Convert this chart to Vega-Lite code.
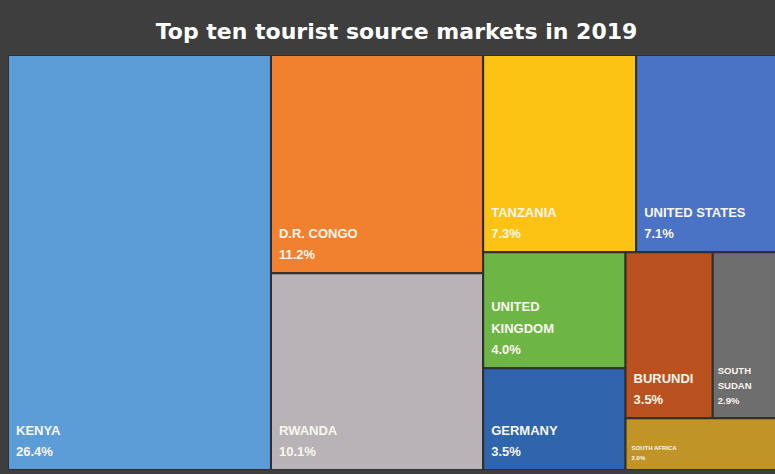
{
  "$schema": "https://vega.github.io/schema/vega-lite/v6.json",
  "width": 767,
  "height": 415,
  "autosize": {"type": "none"},
  "padding": {"left": 8, "top": 55, "right": 0, "bottom": 4},
  "background": "#3e3e3e",
  "title": {"text": "Top ten tourist source markets in 2019", "font": "DejaVu Sans", "fontSize": 22, "fontWeight": "bold", "color": "#ffffff", "anchor": "middle", "offset": 11, "dx": 5},
  "config": {"view": {"stroke": null}},
  "data": {"values": [
    {"country": "Kenya", "label": "KENYA", "share": 26.4, "rank": 1, "l1": "Kenya", "l2": "Kenya", "l3": "Kenya", "l4": "Kenya", "l5": "Kenya"},
    {"country": "D.R. Congo", "label": "D.R. CONGO", "share": 11.2, "rank": 2, "l1": "Central", "l2": "D.R. Congo", "l3": "D.R. Congo", "l4": "D.R. Congo", "l5": "D.R. Congo"},
    {"country": "Rwanda", "label": "RWANDA", "share": 10.1, "rank": 3, "l1": "Central", "l2": "Rwanda", "l3": "Rwanda", "l4": "Rwanda", "l5": "Rwanda"},
    {"country": "Tanzania", "label": "TANZANIA", "share": 7.3, "rank": 4, "l1": "Other", "l2": "Upper", "l3": "Tanzania", "l4": "Tanzania", "l5": "Tanzania"},
    {"country": "United States", "label": "UNITED STATES", "share": 7.1, "rank": 5, "l1": "Other", "l2": "Upper", "l3": "United States", "l4": "United States", "l5": "United States"},
    {"country": "United Kingdom", "label": "UNITED\nKINGDOM", "share": 4.0, "rank": 6, "l1": "Other", "l2": "Lower", "l3": "Europe", "l4": "United Kingdom", "l5": "United Kingdom"},
    {"country": "Germany", "label": "GERMANY", "share": 3.5, "rank": 7, "l1": "Other", "l2": "Lower", "l3": "Europe", "l4": "Germany", "l5": "Germany"},
    {"country": "Burundi", "label": "BURUNDI", "share": 3.5, "rank": 8, "l1": "Other", "l2": "Lower", "l3": "Africa", "l4": "Neighbours", "l5": "Burundi"},
    {"country": "South Sudan", "label": "SOUTH\nSUDAN", "share": 2.9, "rank": 9, "l1": "Other", "l2": "Lower", "l3": "Africa", "l4": "Neighbours", "l5": "South Sudan"},
    {"country": "South Africa", "label": "SOUTH AFRICA", "share": 2.0, "rank": 10, "l1": "Other", "l2": "Lower", "l3": "Africa", "l4": "South Africa", "l5": "South Africa"}
  ]},
  "transform": [
    {"joinaggregate": [{"op": "sum", "field": "share", "as": "P1"}]},
    {"joinaggregate": [{"op": "sum", "field": "share", "as": "N1"}], "groupby": ["l1"]},
    {"joinaggregate": [{"op": "sum", "field": "share", "as": "N2"}], "groupby": ["l1", "l2"]},
    {"joinaggregate": [{"op": "sum", "field": "share", "as": "N3"}], "groupby": ["l1", "l2", "l3"]},
    {"joinaggregate": [{"op": "sum", "field": "share", "as": "N4"}], "groupby": ["l1", "l2", "l3", "l4"]},
    {"joinaggregate": [{"op": "sum", "field": "share", "as": "N5"}], "groupby": ["l1", "l2", "l3", "l4", "l5"]},
    {"window": [{"op": "sum", "field": "share", "as": "c0"}], "sort": [{"field": "rank"}], "frame": [null, 0]},
    {"window": [{"op": "sum", "field": "share", "as": "c1"}], "sort": [{"field": "rank"}], "groupby": ["l1"], "frame": [null, 0]},
    {"window": [{"op": "sum", "field": "share", "as": "c2"}], "sort": [{"field": "rank"}], "groupby": ["l1", "l2"], "frame": [null, 0]},
    {"window": [{"op": "sum", "field": "share", "as": "c3"}], "sort": [{"field": "rank"}], "groupby": ["l1", "l2", "l3"], "frame": [null, 0]},
    {"window": [{"op": "sum", "field": "share", "as": "c4"}], "sort": [{"field": "rank"}], "groupby": ["l1", "l2", "l3", "l4"], "frame": [null, 0]},
    {"window": [{"op": "sum", "field": "share", "as": "c5"}], "sort": [{"field": "rank"}], "groupby": ["l1", "l2", "l3", "l4", "l5"], "frame": [null, 0]},
    {"calculate": "(datum.c0 - datum.c1) / datum.P1", "as": "xa"},
    {"calculate": "datum.xa + datum.N1 / datum.P1", "as": "xb"},
    {"calculate": "(datum.c1 - datum.c2) / datum.N1", "as": "ya"},
    {"calculate": "datum.ya + datum.N2 / datum.N1", "as": "yb"},
    {"calculate": "(datum.c2 - datum.c3) / datum.N2", "as": "t3a"},
    {"calculate": "datum.t3a + datum.N3 / datum.N2", "as": "t3b"},
    {"calculate": "datum.xa + datum.t3a * (datum.xb - datum.xa)", "as": "x3a"},
    {"calculate": "datum.xa + datum.t3b * (datum.xb - datum.xa)", "as": "x3b"},
    {"calculate": "(datum.c3 - datum.c4) / datum.N3", "as": "t4a"},
    {"calculate": "datum.t4a + datum.N4 / datum.N3", "as": "t4b"},
    {"calculate": "datum.ya + datum.t4a * (datum.yb - datum.ya)", "as": "y0"},
    {"calculate": "datum.ya + datum.t4b * (datum.yb - datum.ya)", "as": "y1"},
    {"calculate": "(datum.c4 - datum.c5) / datum.N4", "as": "t5a"},
    {"calculate": "datum.t5a + datum.N5 / datum.N4", "as": "t5b"},
    {"calculate": "datum.x3a + datum.t5a * (datum.x3b - datum.x3a)", "as": "x0"},
    {"calculate": "datum.x3a + datum.t5b * (datum.x3b - datum.x3a)", "as": "x1"},
    {"calculate": "format(datum.share, '.1f') + '%'", "as": "pct"},
    {"calculate": "indexof(datum.label, '\\n') >= 0 ? 2 : 1", "as": "nlines"}
  ],
  "layer": [
    {
      "mark": {"type": "rect", "stroke": "#2f2f2f", "strokeWidth": 2, "clip": true},
      "encoding": {
        "x": {"field": "x0", "type": "quantitative", "scale": {"domain": [0, 0.98713], "nice": false, "zero": false}, "axis": null},
        "x2": {"field": "x1"},
        "y": {"field": "y0", "type": "quantitative", "scale": {"domain": [0, 1], "reverse": true, "nice": false, "zero": false}, "axis": null},
        "y2": {"field": "y1"},
        "color": {"field": "country", "type": "nominal", "legend": null,
          "scale": {"domain": ["Kenya", "D.R. Congo", "Rwanda", "Tanzania", "United States", "United Kingdom", "Germany", "Burundi", "South Sudan", "South Africa"],
                    "range": ["#5c9dd8", "#f1812f", "#b8b3b7", "#fcc314", "#4a73c6", "#6db545", "#2e65ad", "#b9521e", "#6e6e6e", "#c09526"]}}
      }
    },
    {
      "transform": [{"filter": "datum.share >= 3.2"}],
      "mark": {"type": "text", "align": "left", "baseline": "bottom", "dx": 8, "dy": -11, "font": "Liberation Sans", "fontWeight": "bold", "fontSize": 13, "color": "#fbf6ee"},
      "encoding": {
        "x": {"field": "x0", "type": "quantitative"},
        "y": {"field": "y1", "type": "quantitative"},
        "text": {"field": "pct"}
      }
    },
    {
      "transform": [{"filter": "datum.share >= 3.2 && datum.nlines == 1"}],
      "mark": {"type": "text", "align": "left", "baseline": "bottom", "dx": 8, "dy": -32, "font": "Liberation Sans", "fontWeight": "bold", "fontSize": 13, "color": "#fbf6ee"},
      "encoding": {
        "x": {"field": "x0", "type": "quantitative"},
        "y": {"field": "y1", "type": "quantitative"},
        "text": {"field": "label"}
      }
    },
    {
      "transform": [{"filter": "datum.share >= 3.2 && datum.nlines == 2"}],
      "mark": {"type": "text", "align": "left", "baseline": "bottom", "dx": 8, "dy": -54, "font": "Liberation Sans", "fontWeight": "bold", "fontSize": 13, "lineHeight": 22, "lineBreak": "\n", "color": "#fbf6ee"},
      "encoding": {
        "x": {"field": "x0", "type": "quantitative"},
        "y": {"field": "y1", "type": "quantitative"},
        "text": {"field": "label"}
      }
    },
    {
      "transform": [{"filter": "datum.share < 3.2 && datum.share >= 2.5"}],
      "mark": {"type": "text", "align": "left", "baseline": "bottom", "dx": 5, "dy": -12, "font": "Liberation Sans", "fontWeight": "bold", "fontSize": 9.5, "color": "#fbf6ee"},
      "encoding": {
        "x": {"field": "x0", "type": "quantitative"},
        "y": {"field": "y1", "type": "quantitative"},
        "text": {"field": "pct"}
      }
    },
    {
      "transform": [{"filter": "datum.share < 3.2 && datum.share >= 2.5"}],
      "mark": {"type": "text", "align": "left", "baseline": "bottom", "dx": 5, "dy": -42, "font": "Liberation Sans", "fontWeight": "bold", "fontSize": 9.5, "lineHeight": 15, "lineBreak": "\n", "color": "#fbf6ee"},
      "encoding": {
        "x": {"field": "x0", "type": "quantitative"},
        "y": {"field": "y1", "type": "quantitative"},
        "text": {"field": "label"}
      }
    },
    {
      "transform": [{"filter": "datum.share < 2.5"}],
      "mark": {"type": "text", "align": "left", "baseline": "bottom", "dx": 6, "dy": -9, "font": "Liberation Sans", "fontWeight": "bold", "fontSize": 6, "color": "#fbf6ee"},
      "encoding": {
        "x": {"field": "x0", "type": "quantitative"},
        "y": {"field": "y1", "type": "quantitative"},
        "text": {"field": "pct"}
      }
    },
    {
      "transform": [{"filter": "datum.share < 2.5"}],
      "mark": {"type": "text", "align": "left", "baseline": "bottom", "dx": 6, "dy": -19, "font": "Liberation Sans", "fontWeight": "bold", "fontSize": 6, "color": "#fbf6ee"},
      "encoding": {
        "x": {"field": "x0", "type": "quantitative"},
        "y": {"field": "y1", "type": "quantitative"},
        "text": {"field": "label"}
      }
    }
  ]
}
